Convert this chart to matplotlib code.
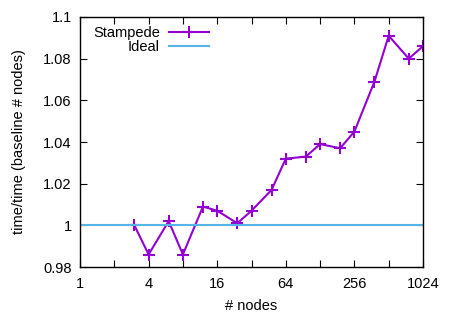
import matplotlib
matplotlib.use("Agg")
import matplotlib.pyplot as plt
from matplotlib.ticker import FixedLocator, NullFormatter

plt.rcParams["font.family"] = ["Liberation Sans", "DejaVu Sans"]
plt.rcParams["font.size"] = 10.5

# ==========================
# DATA
# ==========================

nodes = [3, 4, 6, 8, 12, 16, 24, 32, 48, 64, 96, 128, 192, 256, 384, 512, 768, 1024]
stampede = [1.000, 0.986, 1.002, 0.986, 1.009, 1.007, 1.001, 1.007, 1.017, 1.032,
            1.033, 1.039, 1.037, 1.045, 1.069, 1.091, 1.080, 1.086]
ideal = 1.0

xticks = [1, 4, 16, 64, 256, 1024]
xminor = [2, 8, 32, 128, 512]
yticks = [0.98, 1.0, 1.02, 1.04, 1.06, 1.08, 1.1]
ytick_labels = ["0.98", "1", "1.02", "1.04", "1.06", "1.08", "1.1"]

# ==========================
# PLOT
# ==========================

fig = plt.figure(figsize=(4.5, 3.15), dpi=100)
ax = fig.add_axes([80 / 450, 1 - 267 / 315, 343 / 450, 250 / 315])

ax.plot(nodes, stampede, color="#9400D3", lw=1.5, marker="+", ms=8, mew=1.5,
        label="Stampede")
ax.axhline(ideal, color="#56B4E9", lw=1.5, label="Ideal")

ax.set_xscale("log", base=2)
ax.set_xlim(1, 1024)
ax.set_ylim(0.98, 1.1)

ax.xaxis.set_major_locator(FixedLocator(xticks))
ax.set_xticklabels([str(t) for t in xticks])
ax.xaxis.set_minor_locator(FixedLocator(xminor))
ax.xaxis.set_minor_formatter(NullFormatter())
ax.set_yticks(yticks)
ax.set_yticklabels(ytick_labels)
ax.yaxis.set_minor_locator(FixedLocator([]))

ax.tick_params(which="both", direction="in", top=True, right=True,
               length=5, width=0.8)
ax.tick_params(axis="x", pad=7)
ax.tick_params(axis="y", pad=6)

for s in ax.spines.values():
    s.set_linewidth(1.0)

ax.set_xlabel("# nodes", labelpad=6)
ax.set_ylabel("time/time (baseline # nodes)", labelpad=12)

ax.legend(loc="upper left", frameon=False, markerfirst=False,
          handlelength=2.8, handletextpad=0.6, borderaxespad=0.0, borderpad=0.0,
          labelspacing=0.0, bbox_to_anchor=(0.038, 0.965))

plt.savefig("out.png", dpi=100)
plt.close()
